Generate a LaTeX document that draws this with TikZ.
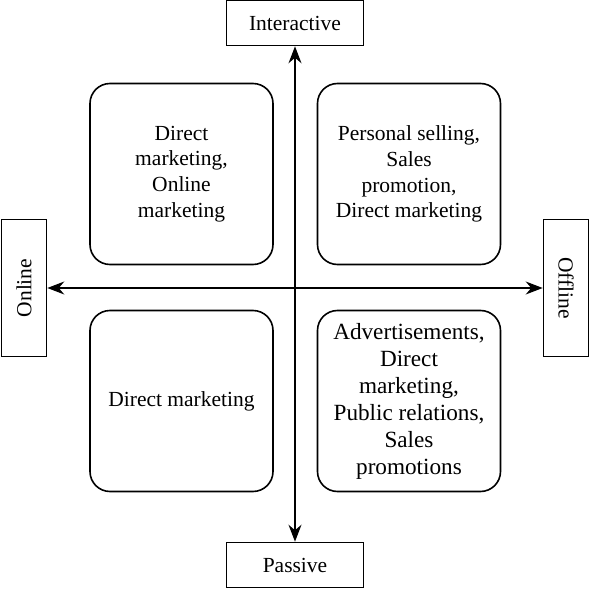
\documentclass[tikz,border=0pt]{standalone}
\usepackage{fontspec}
\setmainfont{Liberation Serif}
\usetikzlibrary{arrows.meta}
\begin{document}
\begin{tikzpicture}[x=1pt,y=-1pt,
  lab/.style={draw, line width=1.6pt, minimum width=137pt, minimum height=45pt, inner sep=0pt,
    font=\fontsize{21.5}{25}\selectfont},
  quad/.style={draw, line width=1.6pt, rounded corners=20pt, minimum width=183pt, minimum height=181pt,
    inner sep=0pt, align=center, font=\fontsize{21.5}{25.8}\selectfont},
  bigquad/.style={quad, font=\fontsize{23.2}{27}\selectfont},
  axis/.style={line width=1.6pt, {Stealth[length=17pt,width=13pt]}-{Stealth[length=17pt,width=13pt]}}]
\useasboundingbox (0,0) rectangle (590,589);
\node[lab] (inter) at (295,23) {Interactive};
\node[lab] (passive) at (295,565) {Passive};
\node[lab, rotate=90] (online) at (24,288) {Online};
\node[lab, rotate=-90] (offline) at (566,288) {Offline};
\node[quad] (tl) at (181.5,174) {Direct\\marketing,\\Online\\marketing};
\node[quad] (tr) at (409,174) {Personal selling,\\Sales\\promotion,\\Direct marketing};
\node[quad] (bl) at (181.5,401) {Direct marketing};
\node[bigquad] (br) at (409,401) {Advertisements,\\Direct\\marketing,\\Public relations,\\Sales\\promotions};
\draw[axis] (inter) -- (passive);
\draw[axis] (online) -- (offline);
\end{tikzpicture}
\end{document}
